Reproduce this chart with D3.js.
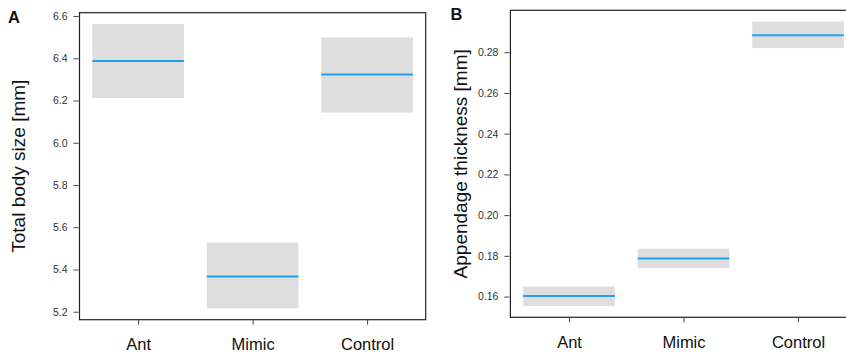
<!DOCTYPE html>
<html><head><meta charset="utf-8">
<script src="https://cdn.jsdelivr.net/npm/d3@7"></script>
<style>body{margin:0;background:#fff}svg{display:block}</style>
</head><body>
<svg id="c" width="846" height="353"></svg>
<script>
const categories = ["Ant", "Mimic", "Control"];
// Panel A: Total body size [mm]
const bodyFit = [6.387, 5.367, 6.323];
const bodyLower = [6.212, 5.216, 6.143];
const bodyUpper = [6.562, 5.527, 6.499];
const bodyTicks = [5.2, 5.4, 5.6, 5.8, 6.0, 6.2, 6.4, 6.6];
// Panel B: Appendage thickness [mm]
const appFit = [0.1603, 0.1787, 0.2883];
const appLower = [0.1554, 0.1740, 0.2820];
const appUpper = [0.1649, 0.1835, 0.2950];
const appTicks = [0.16, 0.18, 0.20, 0.22, 0.24, 0.26, 0.28];

const svg = d3.select("#c");
const font = "Liberation Sans, Arial, Helvetica, sans-serif";

function panel(opt) {
  const {left, top, width, height, fit, lower, upper, ticks, fmt, ylab, letter, lx, ly, labX} = opt;
  const g = svg.append("g");
  const x = d3.scaleLinear().domain([0.488, 3.512]).range([left, left + width]);
  const lo = d3.min(lower), hi = d3.max(upper), ext = (hi - lo) * 0.04;
  const y = d3.scaleLinear().domain([lo - ext, hi + ext]).range([top + height, top]);
  const idx = d3.range(categories.length);

  g.selectAll("rect.ci").data(idx).enter().append("rect")
    .attr("x", i => x(i + 1 - 0.4)).attr("width", i => x(i + 1 + 0.4) - x(i + 1 - 0.4))
    .attr("y", i => y(upper[i])).attr("height", i => y(lower[i]) - y(upper[i]))
    .attr("fill", "#dedede");
  g.selectAll("line.fit").data(idx).enter().append("line")
    .attr("x1", i => x(i + 1 - 0.4)).attr("x2", i => x(i + 1 + 0.4))
    .attr("y1", i => y(fit[i])).attr("y2", i => y(fit[i]))
    .attr("stroke", "#1ea2ee").attr("stroke-width", 2);

  // frame
  g.append("rect").attr("x", left).attr("y", top).attr("width", width).attr("height", height)
    .attr("fill", "none").attr("stroke", "#222").attr("stroke-width", 1.2);

  // y axis
  const ya = g.append("g").attr("transform", `translate(${left - 1},0)`)
    .call(d3.axisLeft(y).tickValues(ticks).tickFormat(fmt).tickSize(5).tickPadding(6));
  ya.select(".domain").remove();
  ya.selectAll("line").attr("stroke", "#444");
  ya.selectAll("text").attr("font-family", font).attr("font-size", 10.5).attr("fill", "#333");

  // x axis
  const xa = g.append("g").attr("transform", `translate(0,${top + height})`)
    .call(d3.axisBottom(x).tickValues([1, 2, 3]).tickFormat(d => categories[d - 1]).tickSize(5).tickPadding(14));
  xa.select(".domain").remove();
  xa.selectAll("line").attr("stroke", "#444");
  xa.selectAll("text").attr("font-family", font).attr("font-size", 16.5).attr("fill", "#111");

  g.append("text").attr("transform", `translate(${labX},${top + height / 2}) rotate(-90)`)
    .attr("text-anchor", "middle").attr("font-family", font).attr("font-size", 19)
    .attr("fill", "#111").text(ylab);

  g.append("text").attr("x", lx).attr("y", ly).attr("font-family", font)
    .attr("font-weight", "bold").attr("font-size", 16.5).attr("fill", "#111").text(letter);
}

panel({left: 79.5, top: 12.7, width: 346.2, height: 307, fit: bodyFit, lower: bodyLower, upper: bodyUpper,
  ticks: bodyTicks, fmt: d3.format(".1f"), ylab: "Total body size [mm]", letter: "A", lx: 8, ly: 23, labX: 25});
panel({left: 510.4, top: 10.3, width: 346.2, height: 307, fit: appFit, lower: appLower, upper: appUpper,
  ticks: appTicks, fmt: d3.format(".2f"), ylab: "Appendage thickness [mm]", letter: "B", lx: 450.5, ly: 19.5, labX: 467});
</script>
</body></html>
